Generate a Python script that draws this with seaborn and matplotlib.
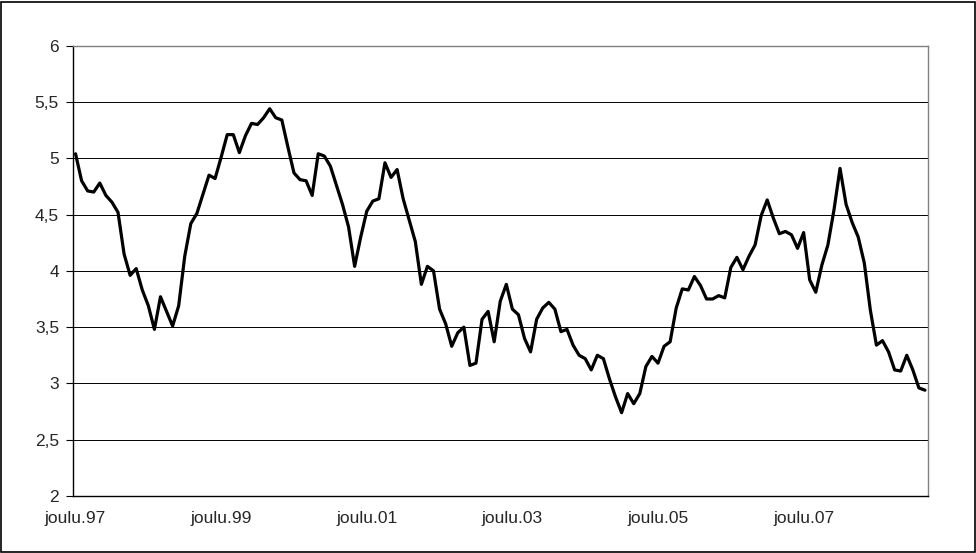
import matplotlib
matplotlib.use("Agg")
import matplotlib.pyplot as plt
import seaborn as sns
import pandas as pd
import numpy as np
from matplotlib.patches import Rectangle

# Monthly values, Dec 1997 .. Aug 2009
values = [
    5.04, 4.80, 4.71, 4.70, 4.78, 4.67, 4.61, 4.52, 4.15, 3.96,
    4.02, 3.83, 3.69, 3.48, 3.77, 3.64, 3.51, 3.69, 4.13, 4.42,
    4.51, 4.68, 4.85, 4.82, 5.01, 5.21, 5.21, 5.05, 5.20, 5.31,
    5.30, 5.36, 5.44, 5.36, 5.34, 5.10, 4.87, 4.81, 4.80, 4.67,
    5.04, 5.02, 4.93, 4.76, 4.59, 4.39, 4.04, 4.30, 4.53, 4.62,
    4.64, 4.96, 4.83, 4.90, 4.64, 4.45, 4.26, 3.88, 4.04, 4.00,
    3.66, 3.53, 3.33, 3.45, 3.50, 3.16, 3.18, 3.57, 3.64, 3.37,
    3.73, 3.88, 3.66, 3.61, 3.40, 3.28, 3.57, 3.67, 3.72, 3.66,
    3.46, 3.48, 3.34, 3.25, 3.22, 3.12, 3.25, 3.22, 3.04, 2.88,
    2.74, 2.91, 2.82, 2.91, 3.15, 3.24, 3.18, 3.33, 3.37, 3.67,
    3.84, 3.83, 3.95, 3.87, 3.75, 3.75, 3.78, 3.76, 4.03, 4.12,
    4.01, 4.13, 4.23, 4.49, 4.63, 4.47, 4.33, 4.35, 4.32, 4.20,
    4.34, 3.92, 3.81, 4.05, 4.23, 4.54, 4.91, 4.59, 4.43, 4.30,
    4.07, 3.65, 3.34, 3.38, 3.28, 3.12, 3.11, 3.25, 3.12, 2.96,
    2.94,
]
x_labels = ["joulu.97", "joulu.99", "joulu.01", "joulu.03", "joulu.05", "joulu.07"]
label_step = 24
y_ticks = [2, 2.5, 3, 3.5, 4, 4.5, 5, 5.5, 6]
y_tick_labels = ["2", "2,5", "3", "3,5", "4", "4,5", "5", "5,5", "6"]

df = pd.DataFrame({"month": np.arange(len(values)), "value": values})

sns.set_style("white")
plt.rcParams["font.family"] = ["Liberation Sans", "DejaVu Sans"]

W, H = 976, 553
fig = plt.figure(figsize=(W / 100, H / 100), dpi=100)
fig.patch.set_facecolor("white")
fig.patches.append(Rectangle((1 / W, 1 / H), (W - 2.5) / W, (H - 2.5) / H,
                             transform=fig.transFigure, fill=False,
                             edgecolor="black", linewidth=1.2))

left, right, top, bottom = 72.5, 928, 45.7, 496
ax = fig.add_axes([left / W, (H - bottom) / H, (right - left) / W, (bottom - top) / H])

sns.lineplot(data=df, x="month", y="value", ax=ax, color="black", linewidth=2.3)

n = len(values)
ax.set_xlim(-0.5, n - 0.5)
ax.set_ylim(2, 6)

ax.set_yticks(y_ticks)
ax.set_yticklabels(y_tick_labels)
ax.yaxis.grid(True, color="black", linewidth=0.7)
ax.set_axisbelow(True)

major = [label_step * k for k in range(len(x_labels))]
ax.set_xticks(major)
ax.set_xticklabels(x_labels)
ax.set_xticks([m - 0.5 for m in major], minor=True)
ax.tick_params(axis="x", which="major", length=0, pad=11, labelsize=12.5)
ax.tick_params(axis="x", which="minor", length=4.5, width=0.8, color="black", direction="out")
ax.tick_params(axis="y", which="major", length=4.7, width=0.8, color="black",
               direction="out", pad=5, labelsize=12.5, left=True)

ax.set_xlabel("")
ax.set_ylabel("")

for side in ["left", "bottom"]:
    ax.spines[side].set_visible(True)
    ax.spines[side].set_color("black")
    ax.spines[side].set_linewidth(1.0)
ax.spines["top"].set_visible(True)
ax.spines["top"].set_color("#808080")
ax.spines["top"].set_linewidth(1.0)
ax.spines["right"].set_visible(True)
ax.spines["right"].set_color("#808080")
ax.spines["right"].set_linewidth(1.0)

fig.savefig("out.png", dpi=100, facecolor="white")
